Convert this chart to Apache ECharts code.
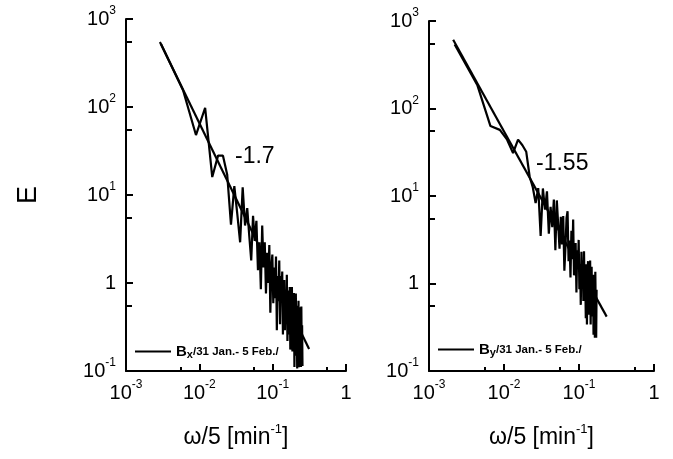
<!DOCTYPE html>
<html>
<head>
<meta charset="utf-8">
<script src="https://cdn.jsdelivr.net/npm/echarts@6/dist/echarts.min.js"></script>
<style>html,body{margin:0;padding:0;background:#fff}#c{width:673px;height:459px}</style>
</head>
<body>
<div id="c"></div>
<script>
// ---- data ----
const freqBx = [0.003,0.006,0.009,0.012,0.015,0.018,0.021,0.024,0.027,0.03,0.033,0.036,0.039,0.042,0.045,0.048,0.051,0.054,0.057,0.06,0.063,0.066,0.069,0.072,0.075,0.078,0.081,0.084,0.087,0.09,0.093,0.096,0.099,0.102,0.105,0.108,0.111,0.114,0.117,0.12,0.123,0.126,0.129,0.132,0.135,0.138,0.141,0.144,0.147,0.15,0.153,0.156,0.159,0.162,0.165,0.168,0.171,0.174,0.177,0.18,0.183,0.186,0.189,0.192,0.195,0.198,0.201,0.204,0.207,0.21,0.213,0.216,0.219,0.222,0.225,0.228,0.231,0.234,0.237,0.24,0.243,0.246,0.249,0.252,0.255];
const energyBx = [520,155,48,98,16,28,28,17,4.6,12.6,6.0,2.9,12.2,4.5,7.1,3.4,1.8,5.8,3.0,5.1,1.4,2.9,0.85,4.5,1.5,2.9,0.76,2.2,1.0,2.7,0.46,1.5,2.1,0.59,1.5,0.67,2.0,0.29,1.2,0.62,1.8,0.34,1.2,0.63,1.35,0.26,0.79,1.08,0.29,0.84,0.34,1.24,0.22,0.56,0.82,0.26,0.90,0.175,0.60,0.33,0.90,0.167,0.51,0.26,0.77,0.111,0.54,0.33,0.76,0.149,0.44,0.107,0.55,0.25,0.63,0.11,0.34,0.53,0.13,0.40,0.111,0.54,0.168,0.33,0.114];
const fitBxX = [0.0029, 0.314];
const fitBxY = [547, 0.178];

const freqBy = [0.0022,0.0044,0.0066,0.0088,0.011,0.0132,0.0154,0.0176,0.0198,0.022,0.0242,0.0264,0.0286,0.0308,0.033,0.0352,0.0374,0.0396,0.0418,0.044,0.0462,0.0484,0.0506,0.0528,0.055,0.0572,0.0594,0.0616,0.0638,0.066,0.0682,0.0704,0.0726,0.0748,0.077,0.0792,0.0814,0.0836,0.0858,0.088,0.0902,0.0924,0.0946,0.0968,0.099,0.1012,0.1034,0.1056,0.1078,0.11,0.1122,0.1144,0.1166,0.1188,0.121,0.1232,0.1254,0.1276,0.1298,0.132,0.1342,0.1364,0.1386,0.1408,0.143,0.1452,0.1474,0.1496,0.1518,0.154,0.1562,0.1584,0.1606,0.1628,0.165,0.1672,0.1694,0.1716];
const energyBy = [540,186,63,57,44,31,44,38,32,16.6,12.6,8.3,12.3,3.5,12.2,7.0,11.3,3.7,7.5,4.4,9.1,2.4,8.9,4.7,2.5,5.8,2.8,5.9,1.4,2.6,5.6,6.7,1.8,3.1,1.17,4.0,1.9,5.4,1.24,1.34,2.9,0.79,2.4,1.46,3.15,0.86,1.66,0.57,2.3,1.06,1.83,0.63,2.34,0.84,1.3,0.40,1.66,0.34,1.31,1.8,0.44,1.08,0.59,1.83,0.34,1.15,1.55,0.42,0.73,1.26,0.26,1.08,0.42,0.24,1.36,0.50,0.24,0.85];
const fitByX = [0.0021, 0.234];
const fitByY = [610, 0.418];

const slopeLabels = ['-1.7', '-1.55'];
const legendMain = ['B', 'B'];
const legendSub = ['x', 'y'];
const legendRest = '/31 Jan.- 5 Feb./';
const xRange = [0.001, 1];
const yRange = [0.1, 1000];
const yName = 'E';
const xNameMain = 'ω/5 [min';
const xNameSup = '-1';

// ---- chart ----
const FONT = '"Liberation Sans", Arial, sans-serif';
const pairs = (xs, ys) => xs.map((x, i) => [x, ys[i]]);
const expLabel = v => {
  const e = Math.round(Math.log10(v));
  if (e === 0) return '{b|1}';
  return '{b|10}{s|' + e + '}';
};
const labelRich = {
  b: { fontSize: 20, lineHeight: 28, fontFamily: FONT, color: '#000' },
  s: { fontSize: 12, lineHeight: 12, verticalAlign: 'top', fontFamily: FONT, color: '#000' }
};
function xAxisDef(gi) {
  return {
    type: 'log', logBase: 10, gridIndex: gi, min: xRange[0], max: xRange[1],
    axisLine: { lineStyle: { color: '#000', width: 2 } },
    axisTick: { inside: true, length: 7, lineStyle: { color: '#000', width: 2 } },
    minorTick: { show: true, splitNumber: 2, length: 4, lineStyle: { color: '#000', width: 2 } },
    splitLine: { show: false },
    axisLabel: { formatter: expLabel, rich: labelRich, margin: 8, color: '#000' },
    name: '{n|' + xNameMain + '}{s|' + xNameSup + '}{n|]}',
    nameLocation: 'middle', nameGap: 52,
    nameTextStyle: { rich: {
      n: { fontSize: 23, lineHeight: 30, fontFamily: FONT, color: '#000' },
      s: { fontSize: 13, lineHeight: 13, verticalAlign: 'top', fontFamily: FONT, color: '#000' }
    } }
  };
}
function yAxisDef(gi, withName) {
  return {
    type: 'log', logBase: 10, gridIndex: gi, min: yRange[0], max: yRange[1],
    axisLine: { lineStyle: { color: '#000', width: 2 } },
    axisTick: { inside: true, length: 7, lineStyle: { color: '#000', width: 2 } },
    minorTick: { show: true, splitNumber: 2, length: 6, lineStyle: { color: '#000', width: 2 } },
    splitLine: { show: false },
    axisLabel: { formatter: expLabel, rich: labelRich, margin: 10, color: '#000' },
    name: withName ? yName : '',
    nameLocation: 'middle', nameGap: 84, nameRotate: 90,
    nameTextStyle: { fontSize: 27, fontFamily: FONT, color: '#000' }
  };
}
const legendRich = {
  b: { fontSize: 15, fontWeight: 'bold', lineHeight: 18, fontFamily: FONT, color: '#000' },
  s: { fontSize: 11, fontWeight: 'bold', lineHeight: 10, verticalAlign: 'bottom', fontFamily: FONT, color: '#000' },
  t: { fontSize: 11.5, fontWeight: 'bold', lineHeight: 18, fontFamily: FONT, color: '#000' }
};
const seriesNames = [legendMain[0] + legendSub[0] + legendRest, legendMain[1] + legendSub[1] + legendRest];
function legendDef(i, left, top) {
  return {
    data: [seriesNames[i]], left: left, top: top, icon: 'rect', itemWidth: 36, itemHeight: 2,
    selectedMode: false,
    formatter: () => '{b|' + legendMain[i] + '}{s|' + legendSub[i] + '}{t|' + legendRest + '}',
    textStyle: { rich: legendRich }
  };
}
const lineStyle = { color: '#000', width: 2.2 };
const chart = echarts.init(document.getElementById('c'), null, { renderer: 'canvas' });
chart.setOption({
  animation: false,
  backgroundColor: '#fff',
  grid: [
    { left: 126, top: 19, width: 220, height: 352 },
    { left: 429, top: 21, width: 225, height: 350 }
  ],
  xAxis: [xAxisDef(0), xAxisDef(1)],
  yAxis: [yAxisDef(0, true), yAxisDef(1, false)],
  legend: [legendDef(0, 130, 339), legendDef(1, 433, 337)],
  series: [
    { name: seriesNames[0], type: 'line', xAxisIndex: 0, yAxisIndex: 0, symbol: 'none', color: '#000', lineStyle: lineStyle, data: pairs(freqBx, energyBx) },
    { name: 'fitBx', type: 'line', xAxisIndex: 0, yAxisIndex: 0, symbol: 'none', color: '#000', lineStyle: lineStyle, data: pairs(fitBxX, fitBxY) },
    { name: seriesNames[1], type: 'line', xAxisIndex: 1, yAxisIndex: 1, symbol: 'none', color: '#000', lineStyle: lineStyle, data: pairs(freqBy, energyBy) },
    { name: 'fitBy', type: 'line', xAxisIndex: 1, yAxisIndex: 1, symbol: 'none', color: '#000', lineStyle: lineStyle, data: pairs(fitByX, fitByY) }
  ],
  graphic: [
    { type: 'text', left: 235, top: 145, style: { text: slopeLabels[0], font: '23px ' + FONT, fill: '#000' } },
    { type: 'text', left: 536, top: 152, style: { text: slopeLabels[1], font: '23px ' + FONT, fill: '#000' } }
  ]
});
</script>
</body>
</html>
